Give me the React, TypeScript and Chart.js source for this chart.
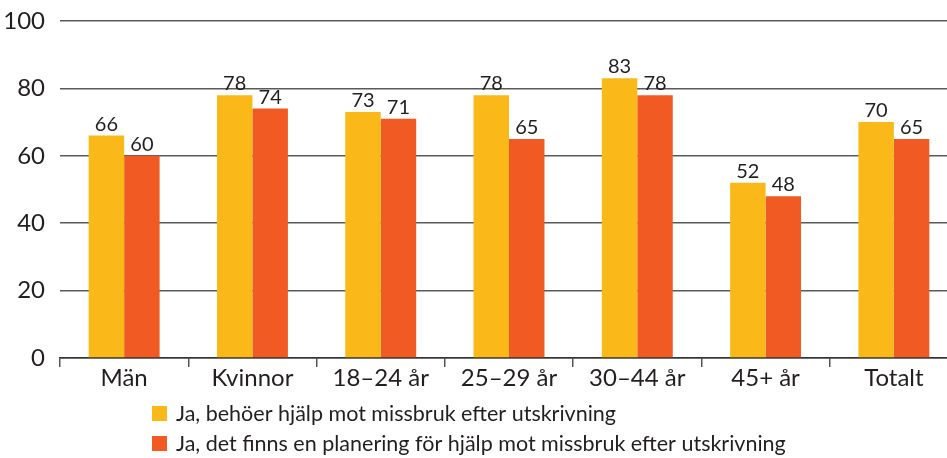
import React, { useEffect, useRef } from "react";
import { Chart, registerables } from "chart.js";

Chart.register(...registerables);

const categories = ["Män", "Kvinnor", "18–24 år", "25–29 år", "30–44 år", "45+ år", "Totalt"];
const needHelp = [66, 78, 73, 78, 83, 52, 70];
const hasPlan = [60, 74, 71, 65, 78, 48, 65];
const seriesLabels = [
  "Ja, behöer hjälp mot missbruk efter utskrivning",
  "Ja, det finns en planering för hjälp mot missbruk efter utskrivning",
];
const yTicks = [0, 20, 40, 60, 80, 100];

const YELLOW = "#FBB919";
const ORANGE = "#F15A22";
const TEXT = "#231F20";
const FONT = "Lato, 'Open Sans', sans-serif";

const valueLabels = {
  id: "valueLabels",
  afterDatasetsDraw(chart: any) {
    const ctx = chart.ctx;
    ctx.save();
    ctx.fillStyle = TEXT;
    ctx.font = `20px ${FONT}`;
    ctx.textAlign = "center";
    ctx.textBaseline = "alphabetic";
    chart.data.datasets.forEach((ds: any, di: number) => {
      const meta = chart.getDatasetMeta(di);
      meta.data.forEach((bar: any, i: number) => {
        ctx.fillText(String(ds.data[i]), bar.x, bar.y - 5);
      });
    });
    ctx.restore();
  },
};

const customLegend = {
  id: "customLegend",
  afterDraw(chart: any) {
    const ctx = chart.ctx;
    ctx.save();
    ctx.font = `21.5px ${FONT}`;
    ctx.textBaseline = "alphabetic";
    ctx.textAlign = "left";
    chart.data.datasets.forEach((ds: any, i: number) => {
      const base = 421 + i * 30;
      ctx.fillStyle = ds.backgroundColor;
      ctx.fillRect(152, base - 15, 15, 15);
      ctx.fillStyle = TEXT;
      ctx.fillText(ds.label, 176, base);
    });
    ctx.restore();
  },
};

export default function App() {
  const ref = useRef<HTMLCanvasElement>(null);
  useEffect(() => {
    if (!ref.current) return;
    const chart = new Chart(ref.current, {
      type: "bar",
      data: {
        labels: categories,
        datasets: [
          { label: seriesLabels[0], data: needHelp, backgroundColor: YELLOW, categoryPercentage: 0.553, barPercentage: 1 },
          { label: seriesLabels[1], data: hasPlan, backgroundColor: ORANGE, categoryPercentage: 0.553, barPercentage: 1 },
        ],
      },
      options: {
        responsive: false,
        animation: false,
        layout: { padding: { top: 21, right: 2, left: 0, bottom: 0 } },
        plugins: { legend: { display: false }, tooltip: { enabled: false } },
        scales: {
          x: {
            grid: { display: true, drawOnChartArea: false, drawTicks: true, tickLength: 9, color: "#555", lineWidth: 1.5 },
            border: { display: true, color: "#333", width: 1.5 },
            ticks: { color: TEXT, font: { family: FONT, size: 24 }, padding: -3, maxRotation: 0, autoSkip: false },
            afterFit: (s: any) => { s.height = 100; },
          },
          y: {
            min: 0,
            max: 100,
            afterBuildTicks: (s: any) => { s.ticks = yTicks.map((v) => ({ value: v })); },
            grid: { color: "#5a5a5a", lineWidth: 1.5, drawTicks: false },
            border: { display: false },
            ticks: { color: TEXT, font: { family: FONT, size: 24, lineHeight: 0.4 }, padding: 15 },
            afterFit: (s: any) => { s.width = 60; },
          },
        },
      },
      plugins: [valueLabels, customLegend],
    });
    return () => chart.destroy();
  }, []);
  return (
    <div style={{ position: "absolute", left: 0, top: 0, width: 947, height: 458, overflow: "hidden", background: "#fff" }}>
      <canvas ref={ref} width={960} height={458} style={{ width: 960, height: 458, display: "block" }} />
    </div>
  );
}
